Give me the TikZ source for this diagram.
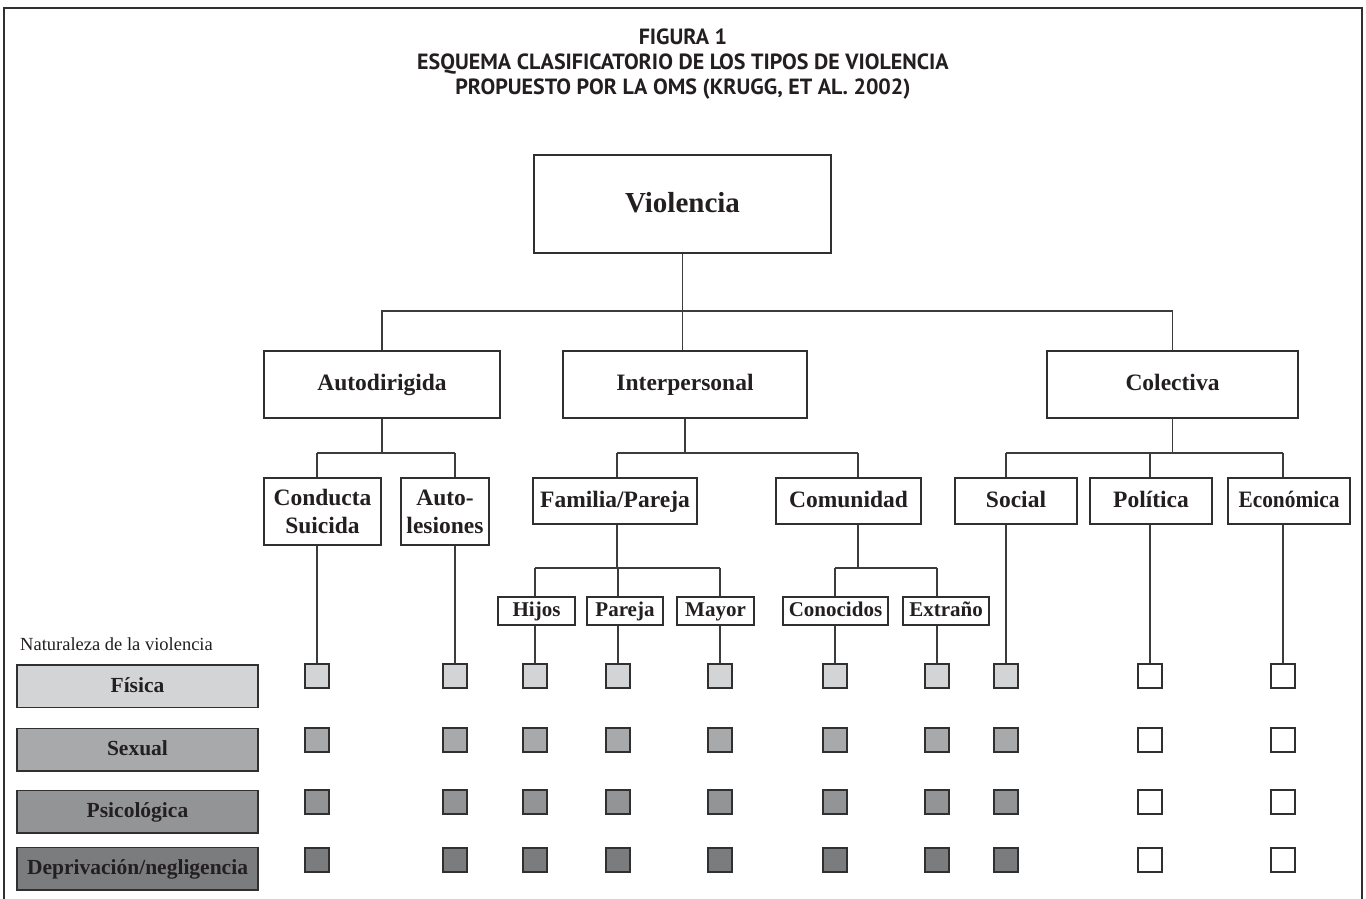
\documentclass[tikz,border=0pt]{standalone}
\usepackage{fontspec}
\setmainfont{Liberation Serif}
\newfontfamily\titlefont{PT Sans}
\usetikzlibrary{backgrounds}
\definecolor{txt}{HTML}{231F20}
\definecolor{boxc}{HTML}{303030}
\definecolor{linec}{HTML}{3C3C3C}
\definecolor{gA}{HTML}{D3D4D6}
\definecolor{gB}{HTML}{A8A9AB}
\definecolor{gC}{HTML}{939496}
\definecolor{gD}{HTML}{7B7C7E}
\tikzset{
  box/.style={draw=boxc, line width=1.5pt, fill=white, inner sep=0pt, align=center, text=txt},
  lvA/.style={box, font=\fontsize{29}{32}\selectfont\bfseries, text height=22pt, text depth=6pt},
  lvB/.style={box, font=\fontsize{23.5}{28}\selectfont\bfseries},
  one/.style={text height=17pt, text depth=5pt},
  lvD/.style={box, font=\fontsize{21}{24}\selectfont\bfseries, minimum height=28pt, text height=15pt, text depth=4pt},
  leg/.style={draw=boxc, line width=1.5pt, inner sep=0pt, text=txt, minimum width=241pt, minimum height=42.5pt, font=\fontsize{21.5}{24}\selectfont\bfseries, text height=16pt, text depth=4pt},
  sq/.style={draw=boxc, line width=1.5pt, inner sep=0pt, minimum size=24pt},
  conn/.style={draw=linec, line width=1.5pt},
  ttl/.style={text=txt, inner sep=0pt, anchor=base, font=\titlefont\fontsize{22}{26}\selectfont\bfseries}
}
\begin{document}
\begin{tikzpicture}[x=1pt,y=-1pt]
\useasboundingbox (0,0) rectangle (1366,899);
% frame
\draw[draw=boxc, line width=2.5pt] (4,920) -- (4,8) -- (1362,8) -- (1362,920);
% title
\node[ttl] (t1) at (683,45) {FIGURA 1};
\node[ttl] (t2) at (683,70) {ESQUEMA CLASIFICATORIO DE LOS TIPOS DE VIOLENCIA};
\node[ttl] (t3) at (683,95) {PROPUESTO POR LA OMS (KRUGG, ET AL. 2002)};
% bus levels
\coordinate (b1) at (0,311);
\coordinate (b2) at (0,453);
\coordinate (b3) at (0,568);
% level 1
\node[lvA, minimum width=297pt, minimum height=98pt] (viol) at (682.5,204) {Violencia};
% level 2
\node[lvB, one, minimum width=236pt, minimum height=67pt] (auto) at (382,384.5) {Autodirigida};
\node[lvB, one, minimum width=244pt, minimum height=67pt] (inter) at (685,384.5) {Interpersonal};
\node[lvB, one, minimum width=251pt, minimum height=67pt] (colec) at (1172.5,384.5) {Colectiva};
% level 3
\node[lvB, minimum width=117pt, minimum height=67pt] (cond) at (322.5,511.5) {Conducta\\Suicida};
\node[lvB, minimum width=88pt, minimum height=67pt] (autol) at (445,511.5) {Auto-\\lesiones};
\node[lvB, one, minimum width=164pt, minimum height=46pt] (fam) at (615,501) {Familia/Pareja};
\node[lvB, one, minimum width=145pt, minimum height=46pt] (com) at (848.5,501) {Comunidad};
\node[lvB, one, minimum width=122pt, minimum height=46pt] (soc) at (1016,501) {Social};
\node[lvB, one, minimum width=122pt, minimum height=46pt] (pol) at (1151,501) {Política};
\node[lvB, one, minimum width=122pt, minimum height=46pt] (eco) at (1289,501) {\scalebox{0.91}[1]{Económica}};
% level 4
\node[lvD, minimum width=77pt] (hij) at (536.5,611) {Hijos};
\node[lvD, minimum width=76pt] (par) at (625,611) {Pareja};
\node[lvD, minimum width=77pt] (may) at (715.5,611) {Mayor};
\node[lvD, minimum width=105pt] (cono) at (835.5,611) {Conocidos};
\node[lvD, minimum width=86pt] (ext) at (946,611) {Extraño};
\coordinate (famx) at ([xshift=2pt]fam.center);
\coordinate (comx) at ([xshift=9.5pt]com.center);
% legend
\node[anchor=base west, inner sep=0pt, text=txt, font=\fontsize{18.5}{22}\selectfont] (nat) at (20,650) {Naturaleza de la violencia};
\node[leg, fill=gA] (lA) at (137.5,686) {Física};
\node[leg, fill=gB] (lB) at (137.5,749.5) {Sexual};
\node[leg, fill=gC] (lC) at (137.5,811.5) {Psicológica};
\node[leg, fill=gD] (lD) at (137.5,868.5) {Deprivación/negligencia};
% squares
\foreach \c/\x/\f in {1/317/1,2/455/1,3/535/1,4/618/1,5/720/1,6/835/1,7/937/1,8/1006/1,9/1150/0,10/1283/0}{
  \ifnum\f=1
    \node[sq, fill=gA] (qA\c) at (\x,676) {};
    \node[sq, fill=gB] (qB\c) at (\x,740) {};
    \node[sq, fill=gC] (qC\c) at (\x,802) {};
    \node[sq, fill=gD] (qD\c) at (\x,860) {};
  \else
    \node[sq, fill=white] (qA\c) at (\x,676) {};
    \node[sq, fill=white] (qB\c) at (\x,740) {};
    \node[sq, fill=white] (qC\c) at (\x,802) {};
    \node[sq, fill=white] (qD\c) at (\x,860) {};
  \fi
}
% connectors
\begin{scope}[on background layer]
\draw[conn] (viol.south) -- (viol.south |- inter.north);
\draw[conn] (auto.north) -- (auto.north |- b1) -- (colec.north |- b1) -- (colec.north);
% autodirigida
\draw[conn] (auto.south) -- (auto.south |- b2);
\draw[conn] (qA1.north |- b2) -- (qA2.north |- b2);
\draw[conn] (qA1.north |- b2) -- (qA1.north);
\draw[conn] (qA2.north |- b2) -- (qA2.north);
% interpersonal
\draw[conn] (inter.south) -- (inter.south |- b2);
\draw[conn] (famx |- b2) -- (comx |- b2);
\draw[conn] (famx |- b2) -- (famx |- b3);
\draw[conn] (comx |- b2) -- (comx |- b3);
\draw[conn] (qA3.north |- b3) -- (qA5.north |- b3);
\draw[conn] (qA6.north |- b3) -- (qA7.north |- b3);
\foreach \c in {3,4,5,6,7}{\draw[conn] (qA\c.north |- b3) -- (qA\c.north);}
% colectiva
\draw[conn] (colec.south) -- (colec.south |- b2);
\draw[conn] (qA8.north |- b2) -- (qA10.north |- b2);
\foreach \c in {8,9,10}{\draw[conn] (qA\c.north |- b2) -- (qA\c.north);}
\end{scope}
\end{tikzpicture}
\end{document}
